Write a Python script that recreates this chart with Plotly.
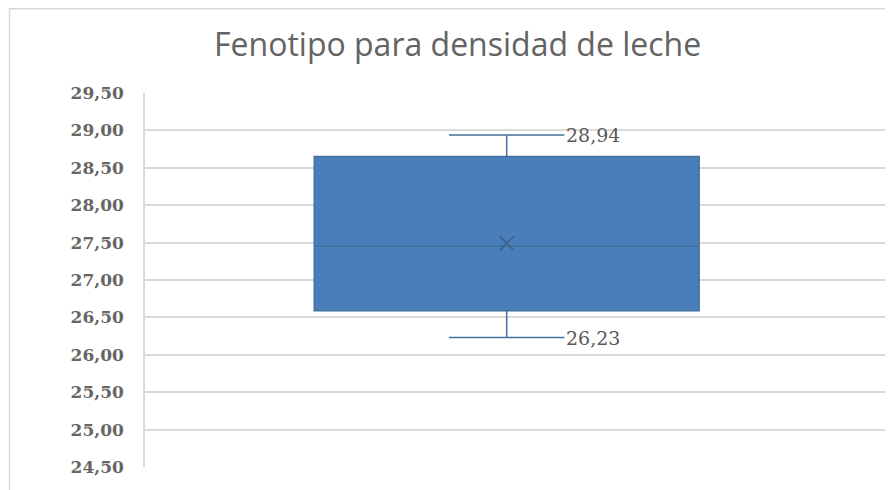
import plotly.graph_objects as go

# Resumen del diagrama de caja
categoria = ["Densidad"]
minimo = [26.23]
q1 = [26.59]
mediana = [27.45]
q3 = [28.65]
maximo = [28.94]
media = [27.49]
ticks_y = [24.5, 25.0, 25.5, 26.0, 26.5, 27.0, 27.5, 28.0, 28.5, 29.0, 29.5]

GRIS = "#595959"
AZUL = "#4A7EBB"
BORDE = "#41719C"

fig = go.Figure()

fig.add_trace(go.Box(
    x=[0],
    q1=q1, median=mediana, q3=q3,
    lowerfence=minimo, upperfence=maximo,
    name=categoria[0],
    width=0.518,
    whiskerwidth=0.3,
    fillcolor=AZUL,
    line=dict(color=BORDE, width=1.5),
    hoverinfo="y",
    showlegend=False,
))

# media como marca "x"
fig.add_trace(go.Scatter(
    x=[0], y=media,
    mode="markers",
    marker=dict(symbol="x-thin", size=14, line=dict(color="#3E5F8A", width=1.5)),
    showlegend=False,
    hoverinfo="y",
))

# etiquetas de los bigotes
cap = 0.5 * 0.3 * 0.518
for v in (maximo[0], minimo[0]):
    fig.add_annotation(
        x=cap, y=v, xref="x", yref="y",
        text=f"{v:.2f}".replace(".", ","),
        showarrow=False, xanchor="left", yanchor="middle", xshift=0,
        font=dict(family="DejaVu Serif", size=19, color=GRIS),
    )

# borde del área del gráfico
fig.add_shape(
    type="rect", xref="paper", yref="paper",
    x0=-0.1824, y0=-0.2, x1=1.2, y1=1.2255,
    line=dict(color="#D9D9D9", width=1.5), layer="below",
)

fig.update_layout(
    width=885, height=482,
    margin=dict(l=137, r=5, t=85, b=23),
    paper_bgcolor="white", plot_bgcolor="white",
    separators=",.",
    title=dict(
        text="Fenotipo para densidad de leche",
        x=0.508, xanchor="center", y=0.923, yanchor="middle",
        font=dict(family="Open Sans", size=32, color="#636363"),
    ),
    xaxis=dict(range=[-0.4868, 0.5132], showticklabels=False, showgrid=False,
               zeroline=False, fixedrange=True),
    yaxis=dict(range=[24.5, 29.5], tickvals=ticks_y, tickformat=".2f",
               showgrid=True, gridcolor="#D9D9D9", gridwidth=1.5,
               showline=True, linecolor="#D9D9D9", linewidth=1.5,
               zeroline=False, ticks="", ticklen=0, ticklabelstandoff=16,
               tickfont=dict(family="DejaVu Serif", size=17, color="#666666",
                             weight="bold")),
)

fig.write_html("out.html")
